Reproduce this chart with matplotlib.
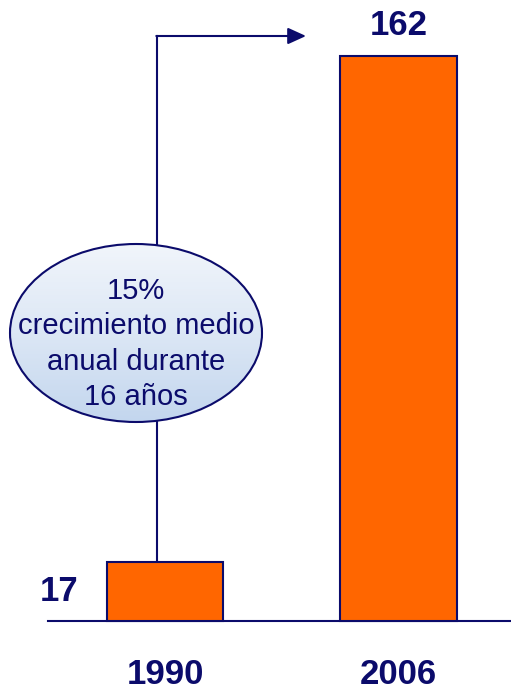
import numpy as np
import matplotlib
matplotlib.use("Agg")
import matplotlib.pyplot as plt
from matplotlib.patches import Ellipse
from matplotlib.colors import LinearSegmentedColormap

years = ["1990", "2006"]
values = [17, 162]
note = "15%\ncrecimiento medio\nanual durante\n16 años"

navy = "#0b0b6b"
orange = "#ff6600"

W, H = 511, 690
fig = plt.figure(figsize=(W / 100, H / 100), dpi=100)
ax = fig.add_axes([0, 0, 1, 1])
ax.set_xlim(-0.7066, 1.4818)
ax.set_ylim(-19.78, 178.04)
ax.axis("off")

def px(x, y):
    # pixel position (from top-left) -> figure fraction
    return x / W, 1 - y / H

xs = np.arange(len(years))
ax.bar(xs, values, width=0.497, color=orange, edgecolor=navy, linewidth=1.5, zorder=3)

# baseline
ax.plot([px(48, 0)[0], 1], [px(0, 621)[1]] * 2, transform=fig.transFigure,
        color=navy, lw=1.5, zorder=2)

ax.text(xs[0] - 0.37, values[0] / 2, str(values[0]), ha="right", va="center",
        fontsize=25, fontweight="bold", color=navy, family="Liberation Sans")
ax.text(xs[1], values[1] + 4, str(values[1]), ha="center", va="bottom",
        fontsize=25, fontweight="bold", color=navy, family="Liberation Sans")
for x, yr in zip(xs, years):
    ax.text(x, -15.2, yr, ha="center", va="center",
            fontsize=25, fontweight="bold", color=navy, family="Liberation Sans")

# connector line from small bar through ellipse to arrow
lx = 157
ax.plot([px(lx, 0)[0]] * 2, [px(0, 562)[1], px(0, 36)[1]], transform=fig.transFigure,
        color=navy, lw=1.5, zorder=1)
ax.annotate("", xy=px(306, 36), xytext=px(lx - 0.7, 36),
            xycoords="figure fraction", textcoords="figure fraction",
            arrowprops=dict(arrowstyle="-|>,head_length=1.1,head_width=0.5",
                            color=navy, lw=1.5, shrinkA=0, shrinkB=0))

# ellipse with vertical gradient
cx, cy = px(136, 333)
ell = Ellipse((cx, cy), 252 / W, 178 / H, transform=fig.transFigure,
              facecolor="none", edgecolor=navy, lw=1.5, zorder=5)
grad = np.linspace(0, 1, 256).reshape(-1, 1)
cmap = LinearSegmentedColormap.from_list("g", ["#c3d6ee", "#dce7f5", "#f1f5fb"])
img = ax.imshow(grad, cmap=cmap, origin="lower", aspect="auto",
                extent=[cx - 126 / W, cx + 126 / W, cy - 89 / H, cy + 89 / H],
                transform=fig.transFigure, zorder=4)
bg = Ellipse((cx, cy), 252 / W, 178 / H, transform=fig.transFigure,
             facecolor="none", edgecolor="none")
ax.add_patch(bg)
img.set_clip_path(bg)
ax.add_patch(ell)
fig.text(cx, px(0, 344)[1], note, ha="center", va="center", fontsize=21,
         color=navy, family="Liberation Sans", linespacing=1.33, zorder=6)

fig.savefig("out.png", dpi=100)
